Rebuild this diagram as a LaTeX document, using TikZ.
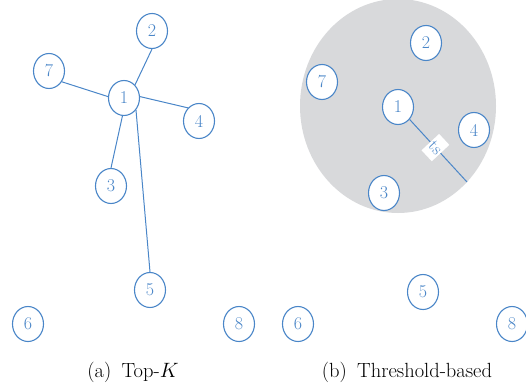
\documentclass[tikz,border=0pt]{standalone}
\usetikzlibrary{shapes.geometric}
\definecolor{nodeblue}{RGB}{74,134,200}
\definecolor{zonegray}{RGB}{216,217,219}
\tikzset{
  vnode/.style={ellipse, draw=nodeblue, line width=1.1pt, fill=white,
    minimum width=31pt, minimum height=35pt, inner sep=0pt,
    text=nodeblue, font=\fontsize{18}{18}\selectfont},
  link/.style={draw=nodeblue, line width=1pt},
  capt/.style={font=\fontsize{20.5}{22}\selectfont, text=black}
}
\begin{document}
\begin{tikzpicture}[x=1pt,y=-1pt]
\useasboundingbox (0,0) rectangle (526,387);
% threshold zone
\fill[zonegray] (398,106) ellipse [x radius=98pt, y radius=107pt];
% left panel
\node[vnode] (a1) at (124,98) {1};
\node[vnode] (a2) at (152,31) {2};
\node[vnode] (a7) at (49,71) {7};
\node[vnode] (a4) at (199,121) {4};
\node[vnode] (a3) at (111,186) {3};
\node[vnode] (a5) at (150,290) {5};
\node[vnode] (a6) at (28,324) {6};
\node[vnode] (a8) at (239,324) {8};
\draw[link] (a1.50) -- (a2.south);
\draw[link] (a1.175) -- (a7.-40);
\draw[link] (a1.5) -- (a4.130);
\draw[link] (a1.-95) -- (a3.north);
\draw[link] (a1.-45) -- (a5.north);
% right panel
\node[vnode] (b1) at (398,107) {1};
\node[vnode] (b2) at (426,43) {2};
\node[vnode] (b7) at (322,82) {7};
\node[vnode] (b4) at (474,130) {4};
\node[vnode] (b3) at (384,193) {3};
\node[vnode] (b5) at (423,292) {5};
\node[vnode] (b6) at (298,324) {6};
\node[vnode] (b8) at (512,324) {8};
\coordinate (rim) at (467,182);
\draw[link] (b1.-47) -- (rim)
  node[pos=0.45, rotate=-47, fill=white, text=nodeblue, inner sep=0pt,
       minimum width=15pt, minimum height=24pt, font=\fontsize{17}{17}\selectfont] (ts) {ts};
% captions
\node[capt] (ca) at (133,372) {(a)\enspace Top-$K$};
\node[capt] (cb) at (407,372) {(b)\enspace Threshold-based};
\end{tikzpicture}
\end{document}
